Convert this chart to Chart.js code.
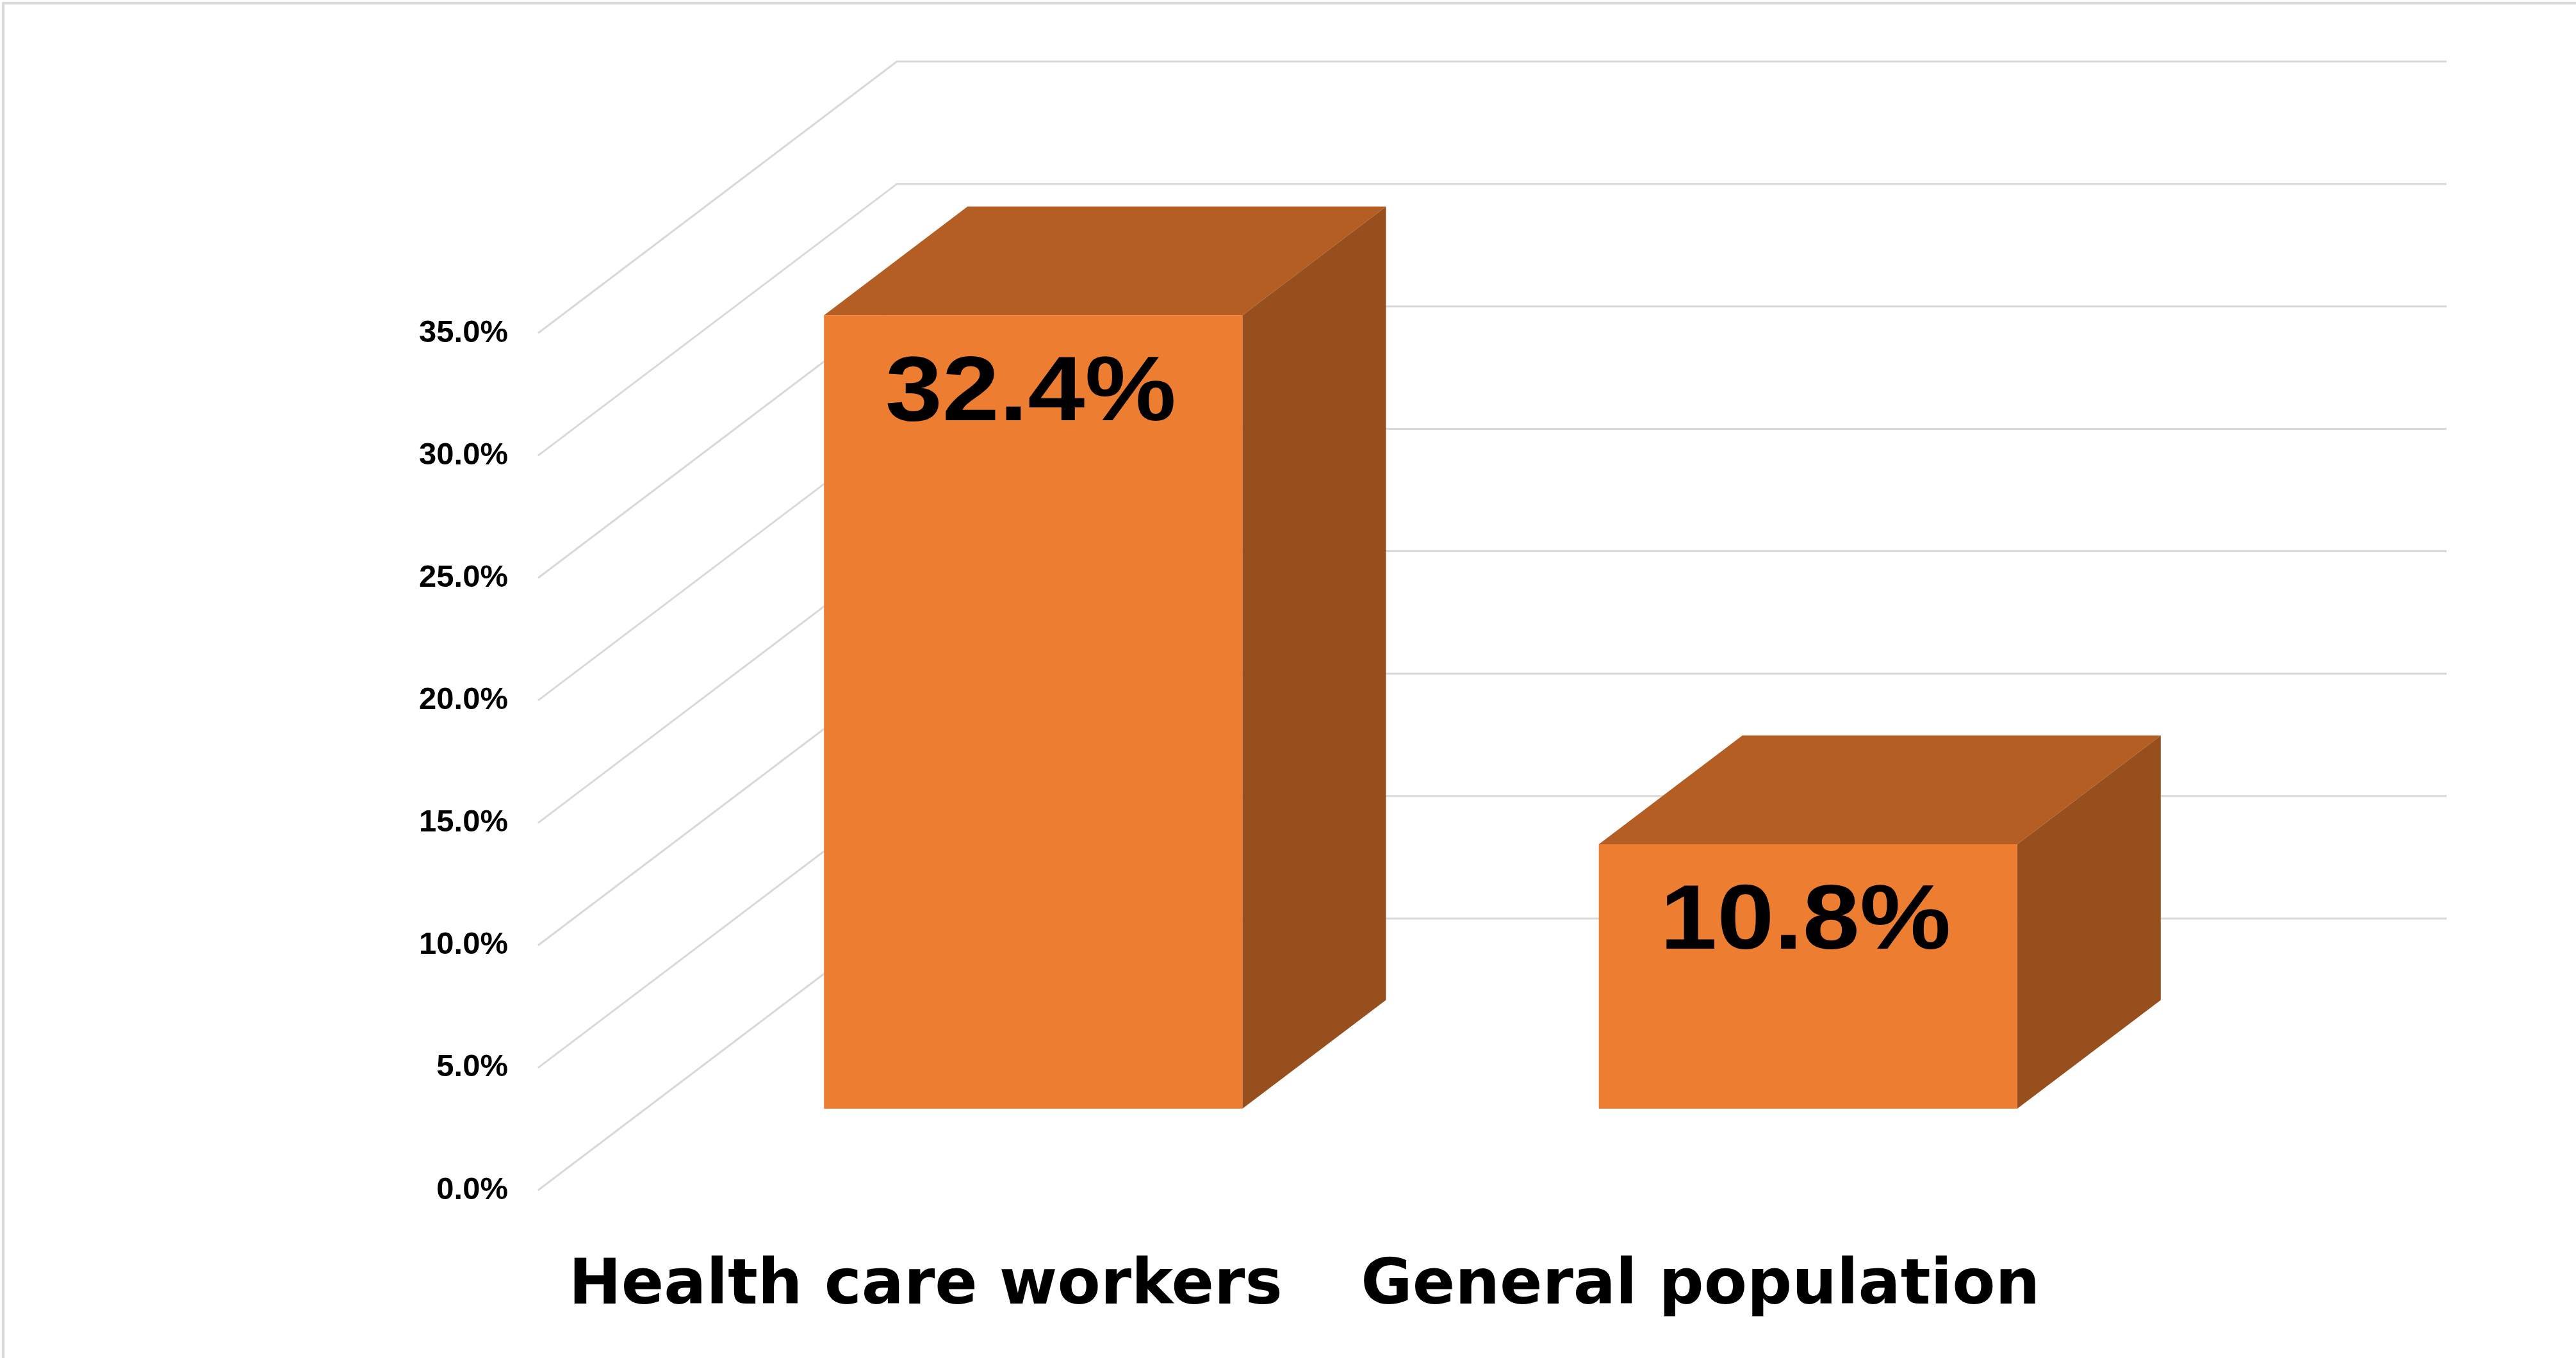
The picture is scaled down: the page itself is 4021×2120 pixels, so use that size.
<!DOCTYPE html>
<html>
<head>
<meta charset="utf-8">
<script src="https://cdn.jsdelivr.net/npm/chart.js@4/dist/chart.umd.min.js"></script>
<style>
  html, body { margin: 0; padding: 0; background: #ffffff; }
  #wrap { width: 4021px; height: 2120px; position: relative; }
</style>
</head>
<body>
<div id="wrap"><canvas id="c" width="4021" height="2120"></canvas></div>
<script>
// Prevalence by group (percent)
const categories = ['Health care workers', 'General population'];
const prevalence = [32.4, 10.8];
const axisMin = 0;
const axisMax = 35;
const axisStep = 5;

const SANS = '"Liberation Sans", Arial, Helvetica, sans-serif';
const WIDE = '"DejaVu Sans", "Liberation Sans", Arial, sans-serif';

// Oblique depth of the 3-D box: full wall depth and where the bars sit in it
const depth = { dx: 560, dy: -424, front: 0.3, back: 0.7 };
const colors = { front: '#ED7D31', top: '#B45E23', side: '#984F1E', grid: '#D9D9D9' };

// Side-wall and back-wall gridlines drawn from the value scale's ticks
const wallsPlugin = {
  id: 'walls',
  beforeDraw(chart) {
    const { ctx, width, height } = chart;
    ctx.save();
    ctx.fillStyle = '#ffffff';
    ctx.fillRect(0, 0, width, height);
    // outer frame (top and left edges)
    ctx.strokeStyle = colors.grid;
    ctx.lineWidth = 4;
    ctx.beginPath();
    ctx.moveTo(5, height);
    ctx.lineTo(5, 5);
    ctx.lineTo(width, 5);
    ctx.stroke();
    ctx.restore();
  },
  beforeDatasetsDraw(chart) {
    const { ctx, chartArea: a, scales: { y } } = chart;
    ctx.save();
    ctx.strokeStyle = colors.grid;
    ctx.lineWidth = 3;
    y.ticks.forEach(t => {
      const py = y.getPixelForValue(t.value);
      ctx.beginPath();
      ctx.moveTo(a.left, py);
      ctx.lineTo(a.left + depth.dx, py + depth.dy);
      ctx.lineTo(a.right + depth.dx, py + depth.dy);
      ctx.stroke();
    });
    ctx.restore();
  }
};

// 3-D boxes built from each bar element's geometry, plus value labels
const boxesPlugin = {
  id: 'boxes',
  afterDatasetsDraw(chart) {
    const { ctx } = chart;
    const meta = chart.getDatasetMeta(0);
    const ox = depth.dx * depth.front, oy = depth.dy * depth.front;
    const bx = depth.dx * (depth.back - depth.front), by = depth.dy * (depth.back - depth.front);
    ctx.save();
    meta.data.forEach((bar, i) => {
      const { x, y, base, width } = bar.getProps(['x', 'y', 'base', 'width'], true);
      const L = x - width / 2 + ox, R = x + width / 2 + ox;
      const T = y + oy, B = base + oy;

      ctx.fillStyle = colors.top;
      ctx.beginPath();
      ctx.moveTo(L, T); ctx.lineTo(L + bx, T + by); ctx.lineTo(R + bx, T + by); ctx.lineTo(R, T);
      ctx.closePath(); ctx.fill();

      ctx.fillStyle = colors.side;
      ctx.beginPath();
      ctx.moveTo(R, T); ctx.lineTo(R + bx, T + by); ctx.lineTo(R + bx, B + by); ctx.lineTo(R, B);
      ctx.closePath(); ctx.fill();

      ctx.fillStyle = colors.front;
      ctx.fillRect(L, T, R - L, B - T);

      // value label, set in a slightly widened bold face
      const v = chart.data.datasets[0].data[i];
      ctx.save();
      ctx.translate((L + R) / 2 - 4, T + 124);
      ctx.scale(1.12, 1);
      ctx.fillStyle = '#000000';
      ctx.font = 'bold 143px ' + SANS;
      ctx.textAlign = 'center';
      ctx.textBaseline = 'middle';
      ctx.fillText(v.toFixed(1) + '%', 0, 0);
      ctx.restore();
    });
    ctx.restore();
  }
};

new Chart(document.getElementById('c'), {
  type: 'bar',
  data: {
    labels: categories,
    datasets: [{
      data: prevalence,
      backgroundColor: 'rgba(0,0,0,0)',
      borderWidth: 0,
      barPercentage: 0.54,
      categoryPercentage: 1
    }]
  },
  options: {
    responsive: false,
    animation: false,
    layout: { padding: { top: 520, right: 762, bottom: 0, left: 0 } },
    plugins: { legend: { display: false }, tooltip: { enabled: false } },
    scales: {
      x: {
        grid: { display: false },
        border: { display: false },
        ticks: {
          color: '#000000',
          font: { family: WIDE, size: 98, weight: 'bold' },
          padding: 85,
          maxRotation: 0,
          autoSkip: false
        },
        afterFit(scale) { scale.height = 262; }
      },
      y: {
        min: axisMin,
        max: axisMax,
        grid: { display: false, drawTicks: false },
        border: { display: false },
        ticks: {
          stepSize: axisStep,
          color: '#000000',
          font: { family: SANS, size: 49, weight: 'bold' },
          padding: 47,
          callback: v => Number(v).toFixed(1) + '%'
        },
        afterFit(scale) { scale.width = 840; }
      }
    }
  },
  plugins: [wallsPlugin, boxesPlugin]
});
</script>
</body>
</html>
